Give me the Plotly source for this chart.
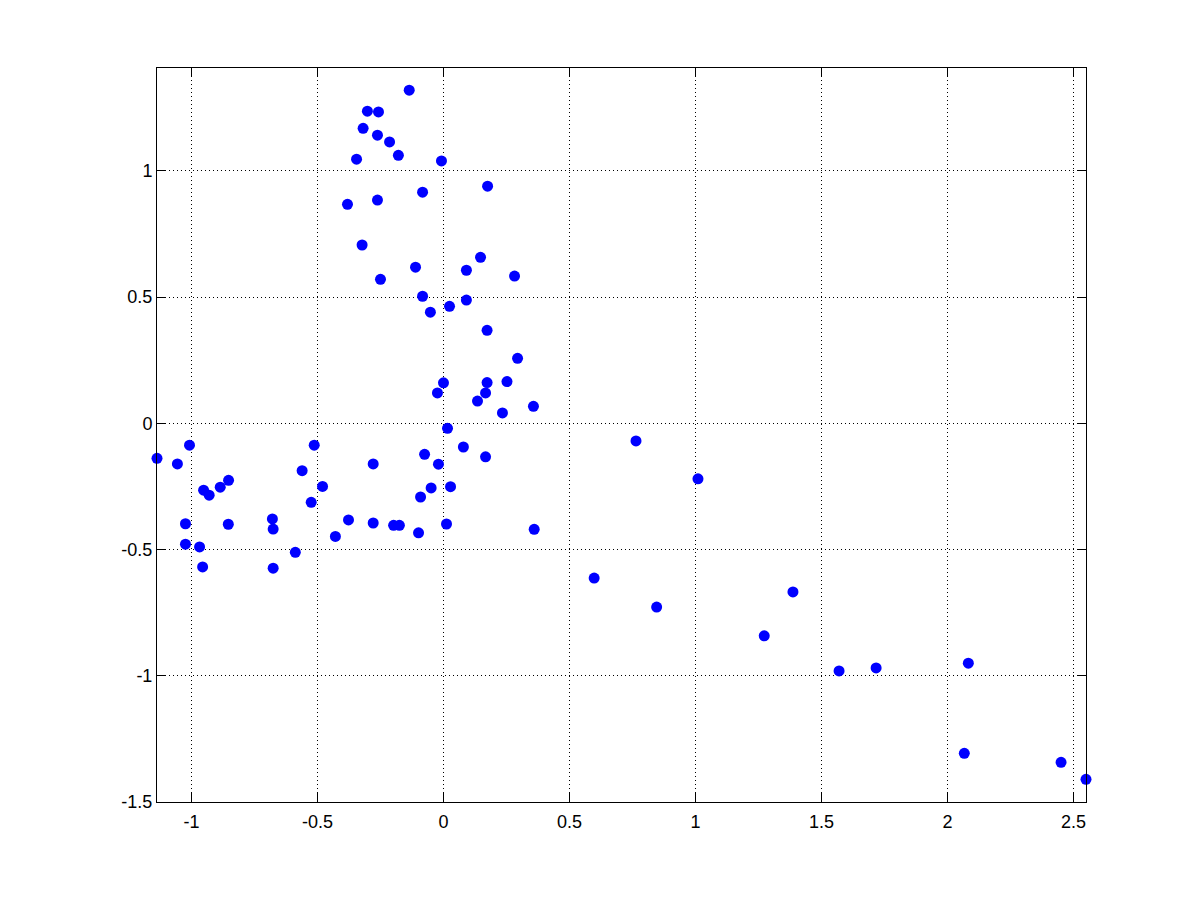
import plotly.graph_objects as go

# Scatter points (x, y)
x_vals = [
    -0.136, -0.302, -0.258, -0.319, -0.262, -0.214, -0.345, -0.179, -0.008, 0.175,
    -0.381, -0.262, -0.083, -0.323, 0.147, -0.111, 0.091, 0.282, -0.250, -0.083,
    0.091, 0.024, -0.052, 0.173,
    0.294, 0.000, -0.024, 0.173, 0.252, 0.167, 0.135, 0.357, 0.234, 0.016,
    0.079, -0.075, 0.167, -0.020, -0.049, 0.028, -0.091, -0.198, -0.175, -0.099,
    0.012, 0.360, -0.279, -0.279,
    -1.137, -1.056, -1.008, -0.952, -0.930, -0.886, -0.853, -1.024, -0.854, -1.024,
    -0.968, -0.956, -0.679, -0.676, -0.676, -0.588, -0.561, -0.480, -0.525, -0.513,
    -0.429, -0.377,
    0.598, 0.764, 0.846, 1.010, 1.273, 1.387, 1.570, 1.717, 2.083, 2.067,
    2.451, 2.550,
]
y_vals = [
    1.319, 1.236, 1.233, 1.168, 1.141, 1.114, 1.046, 1.061, 1.039, 0.939,
    0.867, 0.884, 0.915, 0.706, 0.657, 0.618, 0.606, 0.583, 0.570, 0.503,
    0.488, 0.463, 0.440, 0.368,
    0.257, 0.160, 0.120, 0.161, 0.165, 0.120, 0.088, 0.067, 0.041, -0.020,
    -0.094, -0.123, -0.133, -0.162, -0.256, -0.251, -0.292, -0.404, -0.404, -0.434,
    -0.399, -0.420, -0.161, -0.395,
    -0.139, -0.161, -0.087, -0.265, -0.285, -0.253, -0.226, -0.398, -0.400, -0.479,
    -0.490, -0.569, -0.379, -0.419, -0.574, -0.511, -0.188, -0.250, -0.313, -0.087,
    -0.448, -0.383,
    -0.613, -0.070, -0.728, -0.220, -0.842, -0.668, -0.981, -0.969, -0.950, -1.307,
    -1.343, -1.410,
]

x_ticks = [-1, -0.5, 0, 0.5, 1, 1.5, 2, 2.5]
y_ticks = [-1.5, -1, -0.5, 0, 0.5, 1]

fig = go.Figure()

fig.add_trace(go.Scatter(
    x=x_vals,
    y=y_vals,
    mode="markers",
    marker=dict(color="#0000ff", size=11, line=dict(width=0)),
    cliponaxis=False,
    showlegend=False,
))

axis_style = dict(
    showline=True,
    linecolor="black",
    linewidth=1,
    mirror="allticks",
    ticks="inside",
    ticklen=9,
    tickcolor="black",
    showgrid=True,
    gridcolor="black",
    gridwidth=1,
    griddash="1px,3px",
    zeroline=False,
    tickfont=dict(family="Liberation Sans, Arial", size=18, color="black"),
)

fig.update_xaxes(range=[-1.137, 2.550], tickvals=x_ticks,
                 ticktext=[f"{v:g}" for v in x_ticks],
                 ticklabelstandoff=3, **axis_style)
fig.update_yaxes(range=[-1.5, 1.407], tickvals=y_ticks,
                 ticktext=[f"{v:g}" for v in y_ticks], **axis_style)

# page body has an 8px margin, so the plot area offsets are reduced by 8
fig.update_layout(
    width=1185,
    height=885,
    margin=dict(l=149, r=107, t=60, b=91),
    paper_bgcolor="white",
    plot_bgcolor="white",
)

fig.write_html("out.html")
